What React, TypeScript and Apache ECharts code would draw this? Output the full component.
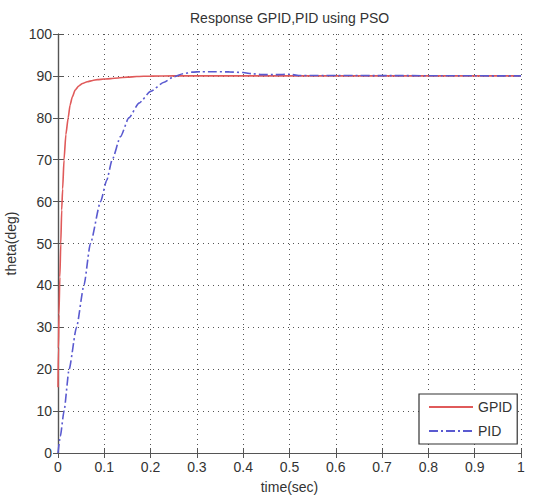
import React, { useEffect, useRef } from "react";
import * as echarts from "echarts";

const titleText = "Response GPID,PID using PSO";
const xName = "time(sec)";
const yName = "theta(deg)";
const seriesNames = ["GPID", "PID"];

const gpidT = [0, 0.001, 0.002, 0.004, 0.006, 0.008, 0.01, 0.013, 0.017, 0.022, 0.026, 0.031, 0.037, 0.045, 0.053, 0.063, 0.075, 0.085, 0.1, 0.114, 0.13, 0.15, 0.17, 0.2, 0.25, 0.3, 1.0];
const gpidY = [15.7, 25, 33, 42, 50, 58, 63, 70, 76, 80, 83, 85, 86.6, 87.6, 88.2, 88.6, 88.9, 89.1, 89.25, 89.35, 89.5, 89.7, 89.85, 89.95, 90, 90, 90];

const pidT = [0, 0.005, 0.013, 0.024, 0.04, 0.056, 0.07, 0.092, 0.105, 0.117, 0.135, 0.153, 0.175, 0.2, 0.229, 0.25, 0.27, 0.29, 0.31, 0.34, 0.37, 0.4, 0.42, 0.44, 0.47, 0.5, 0.52, 1.0];
const pidY = [0, 4, 10, 20, 30, 40, 50, 60, 65, 70, 75.5, 80, 83.5, 86.3, 88.5, 89.8, 90.5, 90.9, 91.0, 91.0, 90.95, 90.8, 90.5, 90.3, 90.3, 90.4, 90.1, 90];

const xMin = 0, xMax = 1, xStep = 0.1;
const yMin = 0, yMax = 100, yStep = 10;

const FONT = "Liberation Sans, Arial, sans-serif";
const TXT = "#333";
const FRAME = "#555";

export default function App() {
  const ref = useRef<HTMLDivElement>(null);
  useEffect(() => {
    const chart = echarts.init(ref.current!, null, { renderer: "svg" });
    const pair = (t: number[], y: number[]) => t.map((v, i) => [v, y[i]]);
    const tick = { show: true, inside: true, length: 5, lineStyle: { color: FRAME, width: 1 } };
    const line = { show: true, lineStyle: { color: FRAME, width: 1.2 } };
    const grid = { show: true, lineStyle: { color: "#555", width: 1, type: [1, 4] } };
    chart.setOption({
      animation: false,
      backgroundColor: "#fff",
      title: {
        text: titleText,
        left: 185,
        top: 6,
        textStyle: { fontFamily: FONT, fontSize: 14, fontWeight: "normal", color: TXT },
      },
      grid: { left: 58, top: 34, width: 463, height: 419, containLabel: false, outerBoundsMode: "none" },
      legend: {
        orient: "vertical",
        left: 419,
        top: 394,
        padding: [6, 5, 6, 9],
        itemWidth: 44,
        itemHeight: 14,
        itemGap: 10,
        itemStyle: { opacity: 0 },
        backgroundColor: "#fff",
        borderColor: "#333",
        borderWidth: 1.2,
        borderRadius: 0,
        textStyle: { fontFamily: FONT, fontSize: 14, color: TXT },
        data: seriesNames,
      },
      xAxis: [
        {
          type: "value",
          min: xMin,
          max: xMax,
          interval: xStep,
          position: "bottom",
          name: xName,
          nameLocation: "middle",
          nameGap: 27,
          nameTextStyle: { fontFamily: FONT, fontSize: 14, color: TXT },
          axisLine: line,
          axisTick: tick,
          axisLabel: { margin: 7, fontFamily: FONT, fontSize: 14, color: TXT, formatter: (v: number) => String(Math.round(v * 10) / 10) },
          splitLine: grid,
        },
        {
          type: "value",
          min: xMin,
          max: xMax,
          interval: xStep,
          position: "top",
          axisLine: line,
          axisTick: tick,
          axisLabel: { show: false },
          splitLine: { show: false },
        },
      ],
      yAxis: [
        {
          type: "value",
          min: yMin,
          max: yMax,
          interval: yStep,
          position: "left",
          name: yName,
          nameLocation: "middle",
          nameGap: 37,
          nameTextStyle: { fontFamily: FONT, fontSize: 14, color: TXT },
          axisLine: line,
          axisTick: tick,
          axisLabel: { margin: 6, fontFamily: FONT, fontSize: 14, color: TXT },
          splitLine: grid,
        },
        {
          type: "value",
          min: yMin,
          max: yMax,
          interval: yStep,
          position: "right",
          axisLine: line,
          axisTick: tick,
          axisLabel: { show: false },
          splitLine: { show: false },
        },
      ],
      series: [
        {
          name: seriesNames[0],
          type: "line",
          data: pair(gpidT, gpidY),
          showSymbol: false,
          symbol: "none",
          smooth: 0.2,
          smoothMonotone: "x",
          lineStyle: { color: "#e05a5a", width: 1.6 },
          itemStyle: { color: "#e05a5a" },
        },
        {
          name: seriesNames[1],
          type: "line",
          data: pair(pidT, pidY),
          showSymbol: false,
          symbol: "none",
          smooth: 0.2,
          smoothMonotone: "x",
          lineStyle: { color: "#5a5ad0", width: 1.6, type: [9, 3, 2, 3] },
          itemStyle: { color: "#5a5ad0" },
        },
      ],
    });
    return () => chart.dispose();
  }, []);
  return <div ref={ref} style={{ width: 539, height: 499, position: "absolute", left: 0, top: 0 }} />;
}
